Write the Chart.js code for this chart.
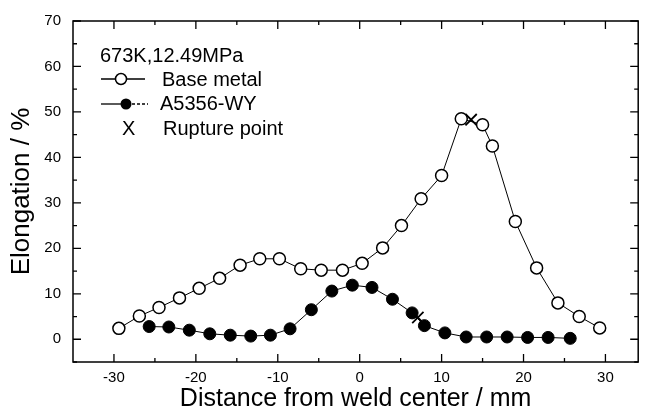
<!DOCTYPE html>
<html>
<head>
<meta charset="utf-8">
<script src="https://cdn.jsdelivr.net/npm/chart.js@4"></script>
<style>
  html, body { margin: 0; padding: 0; background: #fff; }
  #wrap { width: 648px; height: 416px; }
</style>
</head>
<body>
<div id="wrap"><canvas id="elong"></canvas></div>
<script>
const FONT = "'Liberation Sans', Arial, sans-serif";

// Base metal (open circles)
const BASE_X = [-29.4, -26.9, -24.5, -22.0, -19.6, -17.1, -14.6, -12.2, -9.8, -7.2, -4.7, -2.1, 0.3, 2.8, 5.1, 7.5, 10.0, 12.4, 15.0, 16.2, 19.0, 21.6, 24.2, 26.8, 29.3];
const BASE_Y = [2.4, 5.1, 7.0, 9.1, 11.2, 13.4, 16.3, 17.7, 17.7, 15.5, 15.2, 15.2, 16.7, 20.1, 25.0, 30.9, 36.0, 48.5, 47.2, 42.5, 25.9, 15.7, 8.0, 5.0, 2.5];

// A5356-WY (filled circles)
const WY_X = [-25.7, -23.3, -20.8, -18.3, -15.8, -13.3, -10.9, -8.5, -5.9, -3.4, -0.9, 1.5, 4.0, 6.4, 7.9, 10.4, 13.0, 15.5, 18.0, 20.5, 23.0, 25.7];
const WY_Y = [2.8, 2.7, 2.0, 1.2, 0.9, 0.7, 0.9, 2.3, 6.5, 10.6, 11.9, 11.4, 8.8, 5.8, 3.0, 1.4, 0.5, 0.5, 0.5, 0.4, 0.4, 0.2];

// rupture points
const RUPTURE_X = [13.6, 7.1];
const RUPTURE_Y = [48.3, 4.8];

const X_TICKS = [-30, -20, -10, 0, 10, 20, 30];
const X_MINOR = [-25, -15, -5, 5, 15, 25];
const Y_TICKS = [0, 10, 20, 30, 40, 50, 60, 70];
const Y_MINOR = [-5, 5, 15, 25, 35, 45, 55, 65];

const LEGEND_NOTE = "673K,12.49MPa";
const LEGEND_LABELS = ["Base metal", "A5356-WY", "Rupture point"];

const pts = (xs, ys) => xs.map((x, i) => ({ x, y: ys[i] }));

// frame with inward ticks on all four sides
const framePlugin = {
  id: "frame",
  afterDraw(chart) {
    const { ctx, chartArea: a, scales: { x, y } } = chart;
    ctx.save();
    ctx.strokeStyle = "#000";
    ctx.lineWidth = 1.5;
    ctx.strokeRect(a.left, a.top, a.right - a.left, a.bottom - a.top);
    ctx.lineWidth = 1.3;
    const tickX = (v, len) => {
      const px = x.getPixelForValue(v);
      ctx.beginPath();
      ctx.moveTo(px, a.bottom); ctx.lineTo(px, a.bottom - len);
      ctx.moveTo(px, a.top); ctx.lineTo(px, a.top + len);
      ctx.stroke();
    };
    const tickY = (v, len) => {
      const py = y.getPixelForValue(v);
      ctx.beginPath();
      ctx.moveTo(a.left, py); ctx.lineTo(a.left + len, py);
      ctx.moveTo(a.right, py); ctx.lineTo(a.right - len, py);
      ctx.stroke();
    };
    X_TICKS.forEach(v => tickX(v, 8));
    X_MINOR.forEach(v => tickX(v, 4));
    Y_TICKS.forEach(v => tickY(v, 8));
    Y_MINOR.forEach(v => tickY(v, 4));
    ctx.restore();
  }
};

// legend drawn inside the plot, top-left
const legendPlugin = {
  id: "noteLegend",
  afterDraw(chart) {
    const { ctx } = chart;
    ctx.save();
    ctx.fillStyle = "#000";
    ctx.strokeStyle = "#000";
    ctx.font = "20px " + FONT;
    ctx.textBaseline = "alphabetic";
    ctx.textAlign = "left";
    ctx.fillText(LEGEND_NOTE, 100, 62);

    // base metal row
    ctx.lineWidth = 1.3;
    ctx.beginPath();
    ctx.moveTo(101, 79); ctx.lineTo(115, 79);
    ctx.moveTo(127, 79); ctx.lineTo(145, 79);
    ctx.stroke();
    ctx.beginPath();
    ctx.arc(121, 79, 5.5, 0, Math.PI * 2);
    ctx.lineWidth = 1.5;
    ctx.stroke();
    ctx.fillText(LEGEND_LABELS[0], 162, 86);

    // A5356-WY row
    ctx.lineWidth = 1.3;
    ctx.beginPath();
    ctx.moveTo(101, 104); ctx.lineTo(121, 104);
    ctx.stroke();
    ctx.setLineDash([3, 2]);
    ctx.beginPath();
    ctx.moveTo(132, 104); ctx.lineTo(148, 104);
    ctx.stroke();
    ctx.setLineDash([]);
    ctx.beginPath();
    ctx.arc(126, 104, 5.5, 0, Math.PI * 2);
    ctx.fill();
    ctx.fillText(LEGEND_LABELS[1], 160, 110);

    // rupture row
    ctx.fillText("X", 122, 135);
    ctx.fillText(LEGEND_LABELS[2], 163, 135);
    ctx.restore();
  }
};

const ctx = document.getElementById("elong").getContext("2d");
new Chart(ctx, {
  type: "scatter",
  data: {
    datasets: [
      {
        label: "Base metal",
        data: pts(BASE_X, BASE_Y),
        showLine: true,
        borderColor: "#000",
        borderWidth: 1,
        pointRadius: 6,
        pointBorderWidth: 1.5,
        pointBorderColor: "#000",
        pointBackgroundColor: "#fff"
      },
      {
        label: "A5356-WY",
        data: pts(WY_X, WY_Y),
        showLine: true,
        borderColor: "#000",
        borderWidth: 1,
        pointRadius: 6,
        pointBorderWidth: 1,
        pointBorderColor: "#000",
        pointBackgroundColor: "#000"
      },
      {
        label: "Rupture point",
        data: pts(RUPTURE_X, RUPTURE_Y),
        showLine: false,
        pointStyle: "crossRot",
        pointRadius: 8,
        pointBorderWidth: 1.8,
        pointBorderColor: "#000"
      }
    ]
  },
  options: {
    responsive: true,
    maintainAspectRatio: false,
    animation: false,
    layout: { padding: { top: 16, right: 5, left: 0, bottom: 0 } },
    plugins: {
      legend: { display: false },
      tooltip: { enabled: false }
    },
    scales: {
      x: {
        type: "linear",
        min: -35,
        max: 34,
        afterBuildTicks: (s) => { s.ticks = X_TICKS.map(v => ({ value: v })); },
        afterFit: (s) => { s.height = 54; },
        grid: { display: false, drawTicks: false },
        border: { display: false },
        ticks: { color: "#000", font: { family: FONT, size: 15 }, padding: 7, maxRotation: 0 },
        title: {
          display: true,
          text: "Distance from weld center / mm",
          color: "#000",
          font: { family: FONT, size: 25 },
          padding: { top: 0, bottom: 2 }
        }
      },
      y: {
        type: "linear",
        min: -5,
        max: 70,
        afterBuildTicks: (s) => { s.ticks = Y_TICKS.map(v => ({ value: v })); },
        afterFit: (s) => { s.width = 73; },
        grid: { display: false, drawTicks: false },
        border: { display: false },
        ticks: { color: "#000", font: { family: FONT, size: 15 }, padding: 12 },
        title: {
          display: true,
          text: "Elongation / %",
          color: "#000",
          font: { family: FONT, size: 26 },
          padding: { top: 6, bottom: 0 }
        }
      }
    }
  },
  plugins: [framePlugin, legendPlugin]
});
</script>
</body>
</html>
